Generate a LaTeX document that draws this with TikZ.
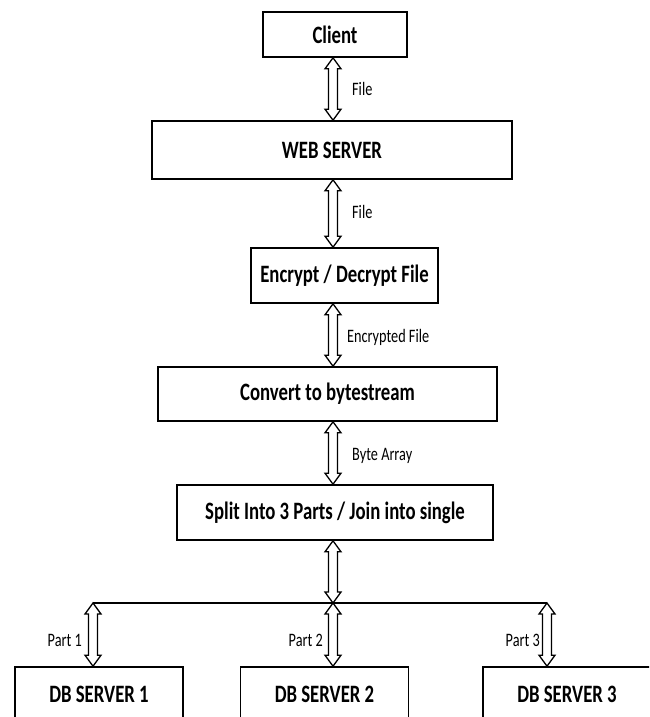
\documentclass[tikz,border=0pt]{standalone}
\usepackage{fontspec}
\setmainfont{Carlito}[FakeStretch=0.75]
\usetikzlibrary{calc}
\tikzset{
  box/.style={draw=black, line width=1.6pt, fill=white, inner sep=0pt,
    font=\fontsize{25}{28}\selectfont\bfseries},
  lbl/.style={inner sep=0pt, font=\fontsize{19}{22}\selectfont},
  dbl/.style={draw=black, line width=1.3pt, fill=white, line join=miter,
    to path={let \p1=(\tikztostart), \p2=(\tikztotarget) in
      (\x1,\y1) -- (\x1+8pt,\y1-11pt) -- (\x1+4.5pt,\y1-11pt) -- (\x1+4.5pt,\y2+11pt)
      -- (\x1+8pt,\y2+11pt) -- (\x1,\y2) -- (\x1-8pt,\y2+11pt) -- (\x1-4.5pt,\y2+11pt)
      -- (\x1-4.5pt,\y1-11pt) -- (\x1-8pt,\y1-11pt) -- cycle}},
  bus/.style={draw=black, line width=1.6pt}
}
\begin{document}
\begin{tikzpicture}[x=1pt,y=-1pt]
\useasboundingbox (0,0) rectangle (649,717);
\clip (0,0) rectangle (649,717);
\coordinate (ax) at (333,0);
\node[box, minimum width=144, minimum height=45] (client) at (335,34.5) {Client};
\node[box, minimum width=360, minimum height=58] (web) at (332,150) {WEB SERVER};
\node[box, minimum width=187, minimum height=55] (enc) at (344.5,275.5) {Encrypt / Decrypt File};
\node[box, minimum width=339, minimum height=54] (conv) at (327.5,394) {Convert to bytestream};
\node[box, minimum width=316, minimum height=55] (split) at (335,512.5) {Split Into 3 Parts / Join into single};
\node[box, minimum width=168, minimum height=54] (db1) at (99,694) {DB SERVER 1};
\node[box, minimum width=168, minimum height=54] (db2) at (324.5,694) {DB SERVER 2};
\node[box, minimum width=168, minimum height=54] (db3) at (567,694) {DB SERVER 3};
\coordinate (b1) at (93,603);
\coordinate (b2) at (333,603);
\coordinate (b3) at (547,603);
\draw[bus] (b1) -- (b3);
\draw[dbl] (client.south -| ax) to (web.north -| ax);
\draw[dbl] (web.south -| ax) to (enc.north -| ax);
\draw[dbl] (enc.south -| ax) to (conv.north -| ax);
\draw[dbl] (conv.south -| ax) to (split.north -| ax);
\draw[dbl] (split.south -| ax) to (b2);
\draw[dbl] (b1) to (db1.north -| b1);
\draw[dbl] (b2) to (db2.north -| b2);
\draw[dbl] (b3) to (db3.north -| b3);
\node[lbl, anchor=west] (l1) at (352,89) {File};
\node[lbl, anchor=west] (l2) at (352,212) {File};
\node[lbl, anchor=west] (l3) at (347,337) {Encrypted File};
\node[lbl, anchor=west] (l4) at (352,456) {Byte Array};
\node[lbl, anchor=east] (p1) at (82,640) {Part 1};
\node[lbl, anchor=east] (p2) at (323,640) {Part 2};
\node[lbl, anchor=east] (p3) at (540,640) {Part 3};
\end{tikzpicture}
\end{document}
